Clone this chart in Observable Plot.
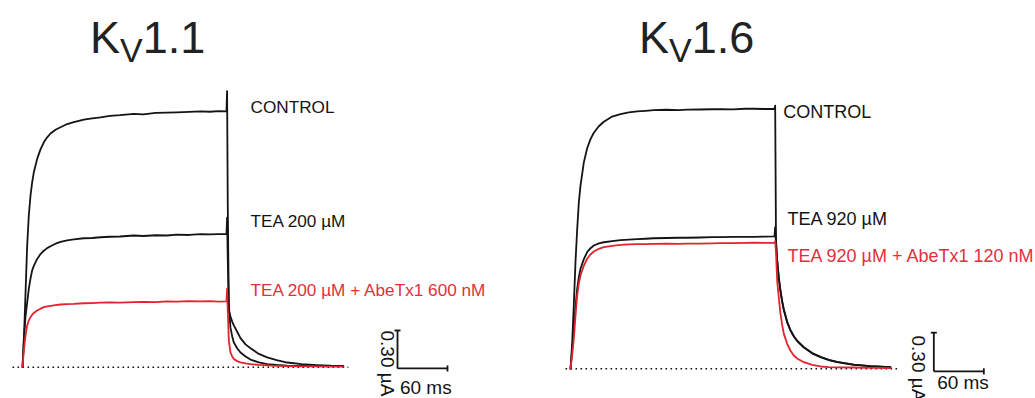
<!DOCTYPE html>
<html><head><meta charset="utf-8">
<script src="https://cdn.jsdelivr.net/npm/d3@7"></script>
<script src="https://cdn.jsdelivr.net/npm/@observablehq/plot@0.6"></script>
<style>
body{margin:0;background:#fff;font-family:"Liberation Sans",Arial,sans-serif;}
#wrap{position:relative;width:1035px;height:398px;overflow:hidden;background:#fff;}
.panel{position:absolute;top:0;height:398px;}
.title{position:absolute;top:15px;font-size:45px;line-height:45px;color:#222;white-space:nowrap;}
.title span.sub{font-size:34px;position:relative;top:9px;}
.chart{position:absolute;top:80px;left:0;}
</style></head>
<body>
<div id="wrap">
  <div class="panel" id="left" style="left:0;width:517px;"></div>
  <div class="panel" id="right" style="left:517px;width:518px;"></div>
</div>
<script>
// ---------- Kv1.1 (time in ms, current in µA) ----------
const kv11Time = [0, 1.6, 3.6, 5.6, 7.6, 9.6, 11.6, 13.6, 17.6, 21.6, 25.6, 29.6, 33.6, 39.6, 45.6, 53.6, 61.6, 73.6, 83.6, 93.6, 105, 117, 133.6, 145, 160, 173.6, 185, 200, 213.6, 225, 235, 244.8, 245.5, 246.3, 247.6, 249.6, 251.6, 253.6, 257.6, 261.6, 267.6, 273.6, 283.6, 293.6, 305, 317.6, 335, 353.6, 370, 385];
const kv11Control = [0, 0.2, 0.58, 0.96, 1.2, 1.355, 1.46, 1.54, 1.645, 1.72, 1.776, 1.815, 1.845, 1.875, 1.895, 1.92, 1.935, 1.955, 1.965, 1.972, 1.985, 1.99, 2.0, 1.997, 2.008, 2.01, 2.012, 2.016, 2.02, 2.017, 2.022, 2.02, 2.18, 1.3, 0.45, 0.40, 0.36, 0.33, 0.28, 0.23, 0.18, 0.15, 0.105, 0.077, 0.055, 0.037, 0.025, 0.017, 0.012, 0.01];
const kv11Tea = [0, 0.22, 0.40, 0.51, 0.62, 0.70, 0.765, 0.80, 0.855, 0.893, 0.92, 0.94, 0.955, 0.975, 0.99, 1.002, 1.01, 1.018, 1.02, 1.026, 1.03, 1.032, 1.04, 1.036, 1.042, 1.04, 1.046, 1.044, 1.05, 1.048, 1.05, 1.05, 1.18, 0.85, 0.49, 0.31, 0.245, 0.195, 0.15, 0.116, 0.085, 0.06, 0.038, 0.025, 0.018, 0.013, 0.01, 0.009, 0.008, 0.008];
const kv11TeaAbeTx = [0, 0.13, 0.25, 0.33, 0.37, 0.395, 0.415, 0.428, 0.448, 0.462, 0.474, 0.48, 0.485, 0.49, 0.495, 0.498, 0.5, 0.505, 0.506, 0.51, 0.512, 0.51, 0.514, 0.516, 0.514, 0.52, 0.518, 0.522, 0.52, 0.521, 0.518, 0.52, 0.62, 0.45, 0.21, 0.116, 0.085, 0.065, 0.048, 0.038, 0.03, 0.024, 0.018, 0.014, 0.011, 0.009, 0.007, 0.006, 0.005, 0.005];
const kv11Labels = ["CONTROL", "TEA 200 µM", "TEA 200 µM + AbeTx1 600 nM"];

// ---------- Kv1.6 ----------
const kv16Time = [0, 2, 4, 6, 8, 10, 12, 16, 20, 24, 28, 34, 40, 50, 60, 70, 80, 90, 100, 115, 130, 140, 155, 170, 180, 195, 210, 220, 232, 244.8, 245.6, 246.6, 248, 250, 252, 254, 256, 260, 264, 268, 272, 280, 290, 300, 310, 320, 340, 360, 384];
const kv16Control = [0, 0.2, 0.5, 0.83, 1.08, 1.29, 1.42, 1.60, 1.71, 1.78, 1.83, 1.88, 1.915, 1.955, 1.975, 1.988, 1.995, 2.0, 2.005, 2.008, 2.006, 2.009, 2.01, 2.012, 2.013, 2.011, 2.016, 2.016, 2.014, 2.016, 2.04, 1.0, 0.84, 0.70, 0.60, 0.52, 0.455, 0.36, 0.297, 0.25, 0.215, 0.165, 0.12, 0.09, 0.068, 0.051, 0.031, 0.02, 0.012];
const kv16Tea = [0, 0.14, 0.31, 0.48, 0.62, 0.71, 0.775, 0.85, 0.904, 0.935, 0.956, 0.972, 0.981, 0.99, 0.997, 1.002, 1.005, 1.008, 1.012, 1.014, 1.016, 1.016, 1.018, 1.02, 1.02, 1.022, 1.023, 1.023, 1.025, 1.026, 1.098, 0.97, 0.84, 0.705, 0.605, 0.525, 0.46, 0.365, 0.30, 0.253, 0.218, 0.168, 0.122, 0.092, 0.07, 0.053, 0.033, 0.021, 0.013];
const kv16TeaAbeTx = [0, 0.11, 0.233, 0.41, 0.568, 0.66, 0.723, 0.80, 0.853, 0.886, 0.909, 0.93, 0.943, 0.953, 0.96, 0.964, 0.966, 0.967, 0.969, 0.97, 0.968, 0.971, 0.971, 0.972, 0.974, 0.975, 0.976, 0.977, 0.976, 0.977, 0.99, 0.90, 0.684, 0.55, 0.426, 0.34, 0.271, 0.194, 0.14, 0.103, 0.08, 0.051, 0.03, 0.018, 0.013, 0.011, 0.01, 0.007, 0.005];
const kv16Labels = ["CONTROL", "TEA 920 µM", "TEA 920 µM + AbeTx1 120 nM"];

// ---------- scale bar ----------
const scaleBarTime = 60;      // ms
const scaleBarCurrent = 0.30; // µA
const scaleBarTexts = ["60 ms", "0.30 µA"];

const BLACK = "#141414", RED = "#e3232d", RED_TEXT = "#e2303b";
const FONT = "Liberation Sans, Arial, sans-serif";

function rows(times, values) { return times.map((t, k) => ({t, i: values[k]})); }

function drawPanel(cfg) {
  const labelRows = cfg.labels.map((label, k) => ({label, t: cfg.labelT[k], i: cfg.labelI[k], c: k === 2 ? RED_TEXT : BLACK}));
  const [sx, sy] = cfg.scaleOrigin;
  const bars = [
    {x1: sx, y1: sy, x2: sx, y2: sy + scaleBarCurrent},
    {x1: sx, y1: sy, x2: sx + scaleBarTime, y2: sy},
    {x1: sx - 3.6, y1: sy + scaleBarCurrent, x2: sx + 3.6, y2: sy + scaleBarCurrent},
    {x1: sx + scaleBarTime, y1: sy - 0.024, x2: sx + scaleBarTime, y2: sy + 0.024}
  ];
  return Plot.plot({
    width: cfg.width, height: 318,
    marginTop: 0, marginRight: 0, marginBottom: 0, marginLeft: 0,
    style: {fontFamily: FONT, background: "transparent", overflow: "visible"},
    x: {domain: [0, 600], range: cfg.xRange, axis: null},
    y: {domain: [0, 2], range: cfg.yRange, axis: null},
    marks: [
      Plot.link([{x1: cfg.baseline[0], x2: cfg.baseline[1]}], {x1: "x1", x2: "x2", y1: () => 0, y2: () => 0, stroke: BLACK, strokeWidth: 1.6, strokeDasharray: "1.6,3.4"}),
      Plot.line(rows(cfg.time, cfg.control), {x: "t", y: "i", stroke: BLACK, strokeWidth: 1.8}),
      Plot.line(rows(cfg.time, cfg.tea), {x: "t", y: "i", stroke: BLACK, strokeWidth: 1.8}),
      Plot.line(rows(cfg.time, cfg.mix), {x: "t", y: "i", stroke: RED, strokeWidth: 1.8}),
      Plot.link(bars, {x1: "x1", y1: "y1", x2: "x2", y2: "y2", stroke: BLACK, strokeWidth: 1.8}),
      Plot.text(labelRows, {x: "t", y: "i", text: "label", fill: "c", textAnchor: "start", lineAnchor: "bottom", fontSize: cfg.labelSize, fontFamily: FONT}),
      Plot.text([{t: sx + scaleBarTime / 2 + cfg.msDx, i: cfg.msI}], {x: "t", y: "i", text: () => scaleBarTexts[0], textAnchor: "middle", lineAnchor: "bottom", fontSize: 19, fill: BLACK, fontFamily: FONT}),
      Plot.text([{t: cfg.uaT, i: cfg.uaI}], {x: "t", y: "i", text: () => scaleBarTexts[1], rotate: 90, textAnchor: "start", lineAnchor: "middle", fontSize: 19, fill: BLACK, fontFamily: FONT})
    ]
  });
}

function addPanel(id, titleText, titleLeft, cfg) {
  const host = document.getElementById(id);
  const title = document.createElement("div");
  title.className = "title";
  title.style.left = titleLeft + "px";
  title.innerHTML = 'K<span class="sub">V</span>' + titleText;
  host.appendChild(title);
  const chart = drawPanel(cfg);
  chart.classList.add("chart");
  host.appendChild(chart);
}

addPanel("left", "1.1", 90, {
  width: 517, time: kv11Time, control: kv11Control, tea: kv11Tea, mix: kv11TeaAbeTx,
  xRange: [22, 522], yRange: [286.7, 33.4],
  labels: kv11Labels, labelT: [273.6, 273.6, 273.6], labelI: [2.005, 1.105, 0.566], labelSize: 17.2,
  baseline: [-12, 391],
  scaleOrigin: [450, -0.01], msDx: 4, msI: -0.208, uaT: 437.6, uaI: 0.29
});
addPanel("right", "1.6", 122, {
  width: 518, time: kv16Time, control: kv16Control, tea: kv16Tea, mix: kv16TeaAbeTx,
  xRange: [53, 553], yRange: [288.3, 30.3],
  labels: kv16Labels, labelT: [255.2, 260.4, 260.4], labelI: [1.943, 1.111, 0.826], labelSize: 18,
  baseline: [-6, 394],
  scaleOrigin: [436, -0.02], msDx: 5, msI: -0.153, uaT: 417, uaI: 0.258
});
</script>
</body></html>
